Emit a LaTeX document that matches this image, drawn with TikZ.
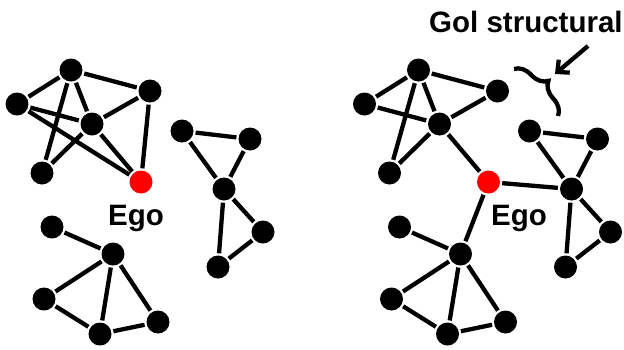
\documentclass[tikz,border=0pt]{standalone}
\usepackage{fontspec}
\setmainfont{Liberation Sans}
\usetikzlibrary{arrows.meta,decorations.pathreplacing}
\tikzset{
	vertex/.style={circle,fill=black,minimum size=23pt,inner sep=0pt},
	egovertex/.style={vertex,fill=red},
	link/.style={line width=4.3pt,shorten <=2pt,shorten >=2pt},
	caption/.style={font=\bfseries\fontsize{29.5}{34}\selectfont,inner sep=0pt,anchor=base west}
}
\begin{document}
\begin{tikzpicture}[x=1pt,y=-1pt]
	\useasboundingbox (0,0) rectangle (624,349);
	\foreach \s/\p in {0pt/l,347.5pt/r}{
		\begin{scope}[xshift=\s]
			\foreach \n/\x/\y in {a/71/70,b/17/104,c/92/124,d/150/91,e/42/173,
				f/182/131,g/250/139,h/224/189,i/263/232,j/218/267,
				k/52/227,l/113/254,m/44/299,n/100/334,o/158/322}
				\node[vertex] (\p\n) at (\x,\y) {};
			\node[egovertex] (\p ego) at (141,182) {};
		\end{scope}
	}
	\foreach \p in {l,r}
		\foreach \u/\v in {a/b,a/c,a/d,a/e,b/c,c/d,c/e,c/ego,f/g,f/h,g/h,h/i,h/j,i/j,k/l,l/m,l/n,l/o,m/n,n/o}
			\draw[link] (\p\u) -- (\p\v);
	\draw[link] (lb) -- (lego);
	\draw[link] (ld) -- (lego);
	\draw[link] (rego) -- (rh);
	\draw[link] (rego) -- (rl);
	\node[caption] (legolabel) at (108,225) {Ego};
	\node[caption] (regolabel) at (491,225) {Ego};
	\node[caption] (holetitle) at (429,32) {Gol structural};
	\coordinate (bracestart) at (514,69);
	\coordinate (braceend) at (558,116);
	\draw[line width=4.3pt,decorate,decoration={brace,amplitude=17pt}] (bracestart) -- (braceend);
	\coordinate (arrowtail) at (588,46);
	\coordinate (arrowtip) at (555,74);
	\draw[line width=4.3pt,-{Straight Barb[length=9pt,width=17pt]}] (arrowtail) -- (arrowtip);
\end{tikzpicture}
\end{document}
